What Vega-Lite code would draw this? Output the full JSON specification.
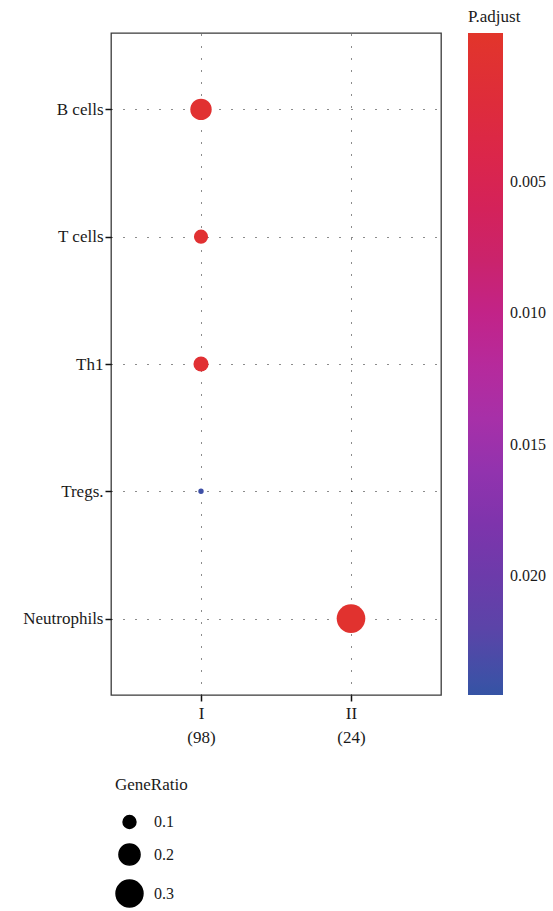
{
  "$schema": "https://vega.github.io/schema/vega-lite/v6.json",
  "autosize": {"type": "none"},
  "padding": {"left": 111, "top": 33, "right": 112, "bottom": 216},
  "width": 330,
  "height": 662,
  "config": {
    "font": "Liberation Serif",
    "view": {"stroke": "#3a3a3a", "strokeWidth": 1.3},
    "axis": {
      "domain": false,
      "grid": true,
      "gridColor": "#000",
      "gridDash": [1, 11],
      "gridWidth": 1,
      "gridOpacity": 0.9,
      "tickColor": "#111",
      "tickWidth": 1.5,
      "tickSize": 6,
      "labelColor": "#1a1a1a",
      "labelFontSize": 17,
      "title": null
    }
  },
  "data": {
    "values": [
      {"cluster": "I (98)", "cell": "B cells", "GeneRatio": 0.204, "padjust": 0.0003},
      {"cluster": "I (98)", "cell": "T cells", "GeneRatio": 0.112, "padjust": 0.0005},
      {"cluster": "I (98)", "cell": "Th1", "GeneRatio": 0.122, "padjust": 0.0006},
      {"cluster": "I (98)", "cell": "Tregs.", "GeneRatio": 0.051, "padjust": 0.0239},
      {"cluster": "II (24)", "cell": "Neutrophils", "GeneRatio": 0.333, "padjust": 0.00004}
    ]
  },
  "mark": {"type": "circle", "opacity": 1},
  "encoding": {
    "x": {
      "field": "cluster",
      "type": "nominal",
      "sort": ["I (98)", "II (24)"],
      "scale": {"type": "point", "padding": 0.6},
      "axis": {"labelAngle": 0, "labelExpr": "split(datum.value, ' ')", "labelLineHeight": 24, "labelPadding": 4, "labelBaseline": "top"}
    },
    "y": {
      "field": "cell",
      "type": "nominal",
      "sort": ["B cells", "T cells", "Th1", "Tregs.", "Neutrophils"],
      "scale": {"type": "point", "padding": 0.6},
      "axis": {"labelPadding": 2}
    },
    "size": {
      "field": "GeneRatio",
      "type": "quantitative",
      "scale": {"domain": [0.051, 0.333], "range": [29, 819], "zero": false, "nice": false},
      "legend": {
        "orient": "none",
        "legendX": 4,
        "legendY": 744,
        "title": "GeneRatio",
        "titleFontSize": 17,
        "titleFontWeight": "normal",
        "titleColor": "#1a1a1a",
        "titlePadding": 20,
        "values": [0.1, 0.2, 0.3],
        "format": ".1f",
        "labelFontSize": 16,
        "labelColor": "#1a1a1a",
        "labelOffset": 10,
        "rowPadding": 8,
        "symbolFillColor": "#000",
        "symbolStrokeColor": "#000",
        "symbolOpacity": 1
      }
    },
    "color": {
      "field": "padjust",
      "type": "quantitative",
      "scale": {
        "domain": [0.02453, -0.00067],
        "nice": false,
        "zero": false,
        "range": ["#3553A4", "#5F42A8", "#7535AB", "#9133AE", "#AE2FA6", "#BE2690", "#CB2468", "#D92450", "#DE2C3C", "#E2352A"]
      },
      "legend": {
        "orient": "none",
        "legendX": 357,
        "legendY": -24,
        "title": "P.adjust",
        "titleFontSize": 17,
        "titleFontWeight": "normal",
        "titleColor": "#1a1a1a",
        "titlePadding": 7,
        "gradientLength": 662,
        "gradientThickness": 35,
        "gradientStrokeWidth": 0,
        "values": [0.005, 0.01, 0.015, 0.02],
        "format": ".3f",
        "labelFontSize": 16,
        "labelColor": "#1a1a1a",
        "labelOffset": 7
      }
    }
  }
}
